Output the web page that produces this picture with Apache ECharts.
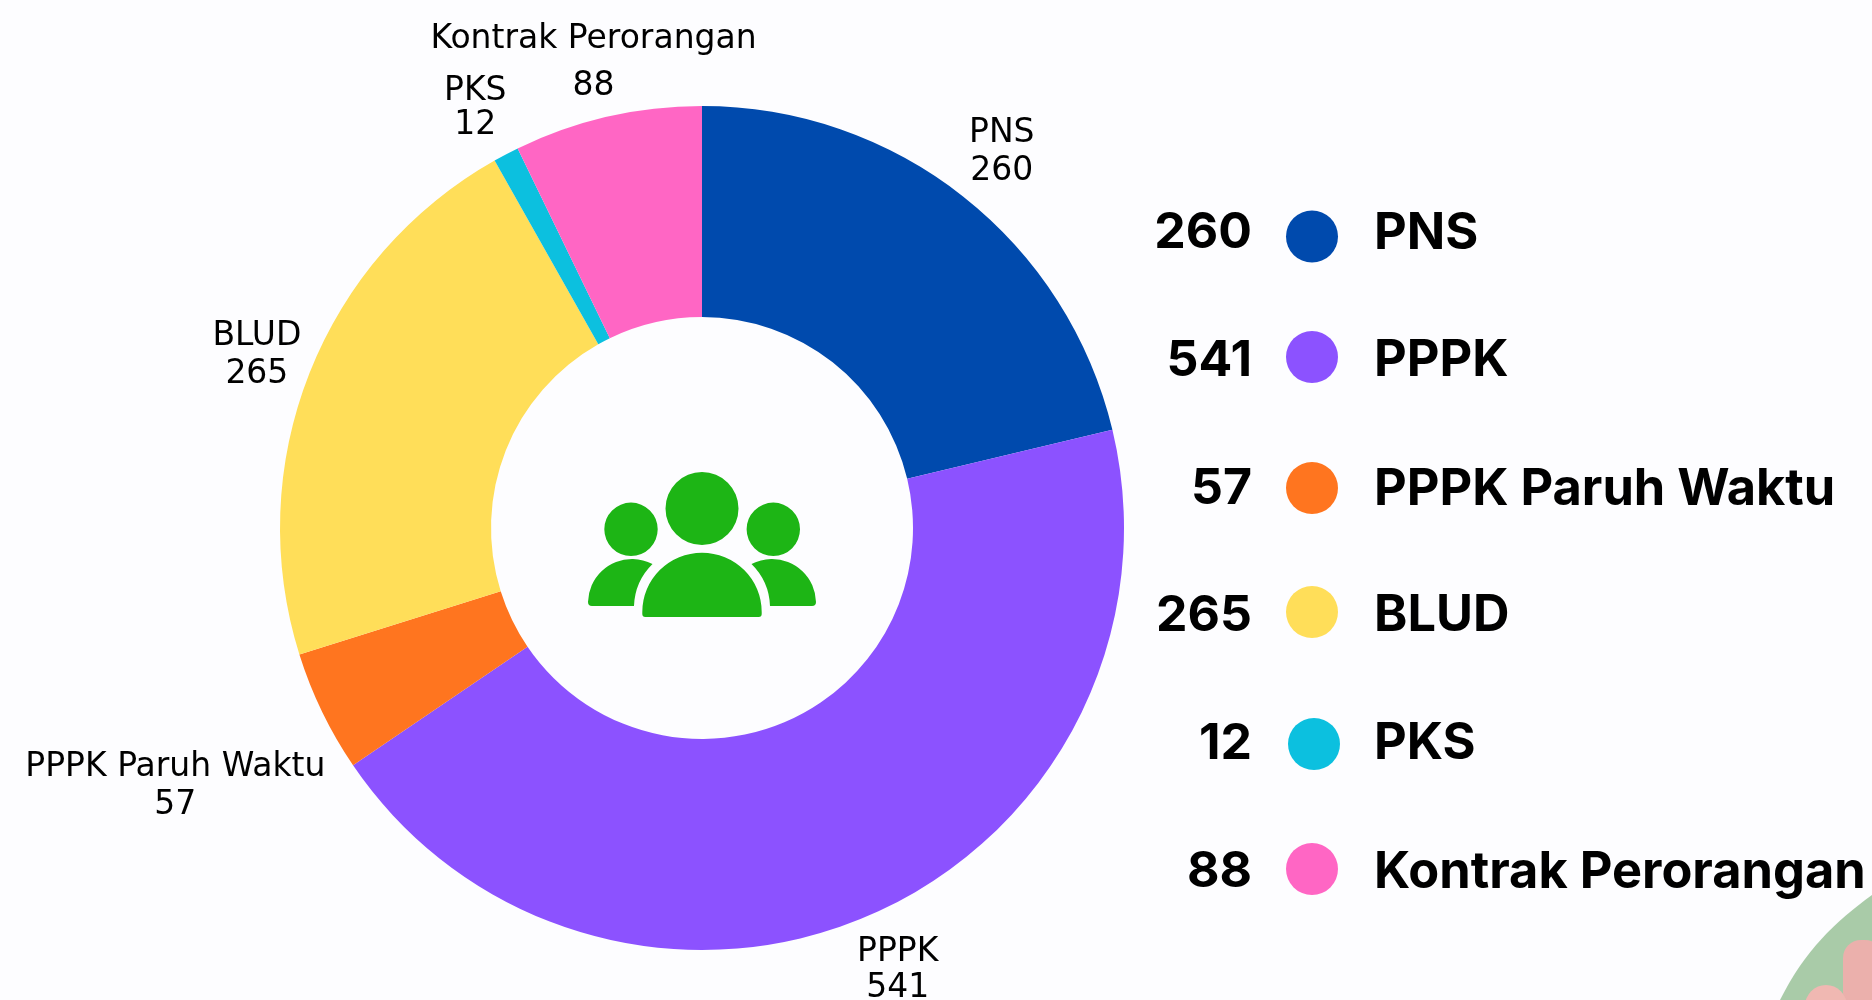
<!DOCTYPE html>
<html>
<head>
<meta charset="utf-8">
<style>
html, body { margin: 0; padding: 0; background: #fdfdff; }
#main { width: 1872px; height: 1000px; }
</style>
<script src="https://cdn.jsdelivr.net/npm/echarts@6/dist/echarts.min.js"></script>
</head>
<body>
<div id="main"></div>
<script>
var names = ['PNS', 'PPPK', 'PPPK Paruh Waktu', 'BLUD', 'PKS', 'Kontrak Perorangan'];
var values = [260, 541, 57, 265, 12, 88];
var colors = ['#004aad', '#8c52ff', '#ff751f', '#ffde59', '#0cc0df', '#ff66c4'];

// hand placed rows and label nudges, the original layout is not regular
var iconRows = [234, 357, 488, 612, 744, 869];
var valueRows = [233, 361, 489, 616, 744, 872];
var legendTextShift = [-3, 4, 2, 4, 0, 4];
var labelDx = [0, 0, -91, 5, -2, 0];
var labelDy = [4, 0, 48, 5, 9, 7];
var labelLineHeights = [38, 36, 38, 38, 34, 47];

var pieData = [];
var labelData = [];
for (var i = 0; i < names.length; i++) {
    pieData.push({ name: names[i], value: values[i] });
    labelData.push({ name: names[i], value: values[i], label: { lineHeight: labelLineHeights[i] } });
}

function legendLabel(name) {
    return '{t|' + name + '}';
}

var legends = [];
var graphics = [];
for (var i = 0; i < names.length; i++) {
    var shift = legendTextShift[i];
    legends.push({
        data: [names[i]],
        padding: 0,
        left: i == 4 ? 1288 : 1286,
        top: iconRows[i] - 26,
        itemWidth: 52,
        itemHeight: 52,
        itemGap: 0,
        icon: 'circle',
        selectedMode: false,
        formatter: legendLabel,
        textStyle: {
            padding: [0, 0, 0, i == 4 ? 29 : 31],
            rich: {
                t: {
                    fontFamily: 'Inter',
                    fontWeight: 700,
                    fontSize: 50.5,
                    color: '#000',
                    padding: [shift > 0 ? shift * 2 : 0, 0, shift < 0 ? -shift * 2 : 0, 0]
                }
            }
        }
    });
    graphics.push({
        type: 'text',
        x: 1252,
        y: valueRows[i],
        style: {
            text: String(values[i]),
            align: 'right',
            verticalAlign: 'middle',
            fontFamily: 'Inter',
            fontWeight: 700,
            fontSize: 50,
            fill: '#000'
        }
    });
}

// people icon in the hole
var iconPath = 'M702 472a36.5 36.5 0 1 0 0.01 0Z' +
    'M631 502.6a26.7 26.7 0 1 0 0.01 0Z' +
    'M773.3 502.6a26.7 26.7 0 1 0 0.01 0Z' +
    'M642.3 612a59.7 59.3 0 0 1 119.4 0v2a3 3 0 0 1 -3 3h-113.4a3 3 0 0 1 -3 -3Z' +
    'M588 602a44 44 0 0 1 64.5 -38a62 62 0 0 0 -18.5 42h-42a4 4 0 0 1 -4 -4Z' +
    'M816 602a44 44 0 0 0 -64.5 -38a62 62 0 0 1 18.5 42h42a4 4 0 0 0 4 -4Z';
var cornerPath = 'M1872 895C1835 922 1805 950 1780 1000H1872Z';

var option = {
    backgroundColor: '#fdfdff',
    animation: false,
    color: colors,
    legend: legends,
    graphic: graphics,
    series: [{
        type: 'pie',
        center: [702, 528],
        radius: [211, 422],
        startAngle: 90,
        silent: true,
        label: { show: false },
        labelLine: { show: false },
        data: pieData
    }, {
        // clear ring, only here to centre the labels outside the slices
        type: 'pie',
        center: [702, 528],
        radius: [422, 540],
        startAngle: 90,
        silent: true,
        avoidLabelOverlap: false,
        itemStyle: { color: 'transparent' },
        label: {
            show: true,
            position: 'inside',
            formatter: '{b}\n{c}',
            fontFamily: 'DejaVu Sans',
            fontSize: 33,
            lineHeight: 38,
            color: '#000'
        },
        labelLayout: function (params) {
            return { dx: labelDx[params.dataIndex], dy: labelDy[params.dataIndex], hideOverlap: false };
        },
        labelLine: { show: false },
        data: labelData
    }, {
        // icon and the corner decoration
        type: 'custom',
        coordinateSystem: 'none',
        silent: true,
        data: [0],
        renderItem: function () {
            return {
                type: 'group',
                children: [{
                    type: 'path',
                    shape: { pathData: iconPath, layout: 'cover', x: 588, y: 472, width: 228, height: 145 },
                    style: { fill: '#1db515' }
                }, {
                    type: 'path',
                    shape: { pathData: cornerPath, layout: 'cover', x: 1780, y: 895, width: 92, height: 105 },
                    style: { fill: '#a9cba8' }
                }, {
                    type: 'rect',
                    shape: { x: 1843, y: 940, width: 40, height: 70, r: 18 },
                    style: { fill: '#ebb0ac' }
                }, {
                    type: 'circle',
                    shape: { cx: 1826, cy: 1006, r: 21 },
                    style: { fill: '#f0b8b2' }
                }]
            };
        }
    }]
};

var chart = echarts.init(document.getElementById('main'));
chart.setOption(option);
</script>
</body>
</html>
